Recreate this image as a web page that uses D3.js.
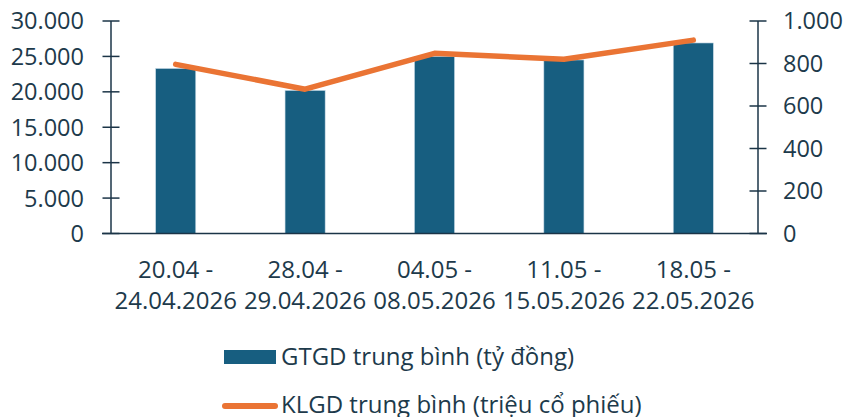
<!DOCTYPE html>
<html><head><meta charset="utf-8">
<script src="https://cdn.jsdelivr.net/npm/d3@7"></script>
<style>body{margin:0;background:#fff}svg{display:block}text{font-family:"Open Sans",sans-serif;fill:#1d3a4b}</style>
</head><body>
<svg id="c" width="848" height="417"></svg>
<script>
const categories = [["20.04 -","24.04.2026"],["28.04 -","29.04.2026"],["04.05 -","08.05.2026"],["11.05 -","15.05.2026"],["18.05 -","22.05.2026"]];
const gtgd = [23300, 20200, 25000, 24500, 26900];
const klgd = [796, 679, 848, 820, 910];
const leftTicks = [0,5000,10000,15000,20000,25000,30000];
const rightTicks = [0,200,400,600,800,1000];
const legendLabels = ["GTGD trung bình (tỷ đồng)","KLGD trung bình (triệu cổ phiếu)"];

const svg = d3.select("#c");
const L = 111, R = 758, T = 21, B = 233.5;
const FS = 24;
const fmt = d3.formatLocale({decimal:",", thousands:".", grouping:[3]}).format(",");
const x = d3.scaleBand().domain(d3.range(categories.length)).range([L,R]).paddingInner(0.69).paddingOuter(0.345);
const yL = d3.scaleLinear().domain([0,30000]).range([B,T]);
const yR = d3.scaleLinear().domain([0,1000]).range([B,T]);
const axisCol = "#1b3447";

svg.selectAll("rect.bar").data(gtgd).join("rect").attr("class","bar")
  .attr("x",(d,i)=>x(i)).attr("width",x.bandwidth())
  .attr("y",d=>yL(d)).attr("height",d=>B-yL(d))
  .attr("fill","#175e80").attr("stroke","#c9dbe6").attr("stroke-width",0.6);

svg.append("line").attr("x1",L-9).attr("x2",R+9).attr("y1",B).attr("y2",B).attr("stroke",axisCol).attr("stroke-width",1.5);

function vAxis(scale, ticks, xpos, left){
  const g = svg.append("g");
  g.append("line").attr("x1",xpos).attr("x2",xpos).attr("y1",scale(ticks[ticks.length-1])).attr("y2",B).attr("stroke",axisCol).attr("stroke-width",1.5);
  g.selectAll("line.t").data(ticks).join("line").attr("class","t")
    .attr("x1",xpos-8.5).attr("x2",xpos+8.5).attr("y1",d=>scale(d)).attr("y2",d=>scale(d))
    .attr("stroke",axisCol).attr("stroke-width",1.5);
  g.selectAll("text").data(ticks).join("text")
    .attr("x", left ? xpos-27 : xpos+25)
    .attr("y", d=>scale(d)).attr("dy","0.36em")
    .attr("text-anchor", left ? "end" : "start")
    .attr("font-size",FS-0.5).text(d=>fmt(d));
}
vAxis(yL, leftTicks, L, true);
vAxis(yR, rightTicks, R, false);

const line = d3.line().x((d,i)=>x(i)+x.bandwidth()/2).y(d=>yR(d));
svg.append("path").datum(klgd).attr("d",line).attr("fill","none")
  .attr("stroke","#ea7434").attr("stroke-width",5.5).attr("stroke-linecap","round").attr("stroke-linejoin","round");

const xl = svg.append("g");
categories.forEach((c,i)=>{
  const cx = x(i)+x.bandwidth()/2;
  const t = xl.append("text").attr("text-anchor","middle").attr("font-size",FS);
  t.append("tspan").attr("x",cx).attr("y",277.5).text(c[0]);
  t.append("tspan").attr("x",cx).attr("y",309).text(c[1]);
});

svg.append("rect").attr("x",224).attr("y",350).attr("width",52).attr("height",14).attr("fill","#175e80");
svg.append("text").attr("x",281).attr("y",365).attr("font-size",FS).text(legendLabels[0]);
svg.append("line").attr("x1",225).attr("x2",275).attr("y1",406).attr("y2",406).attr("stroke","#ea7434").attr("stroke-width",6).attr("stroke-linecap","round");
svg.append("text").attr("x",281).attr("y",413).attr("font-size",FS).text(legendLabels[1]);
</script>
</body></html>
